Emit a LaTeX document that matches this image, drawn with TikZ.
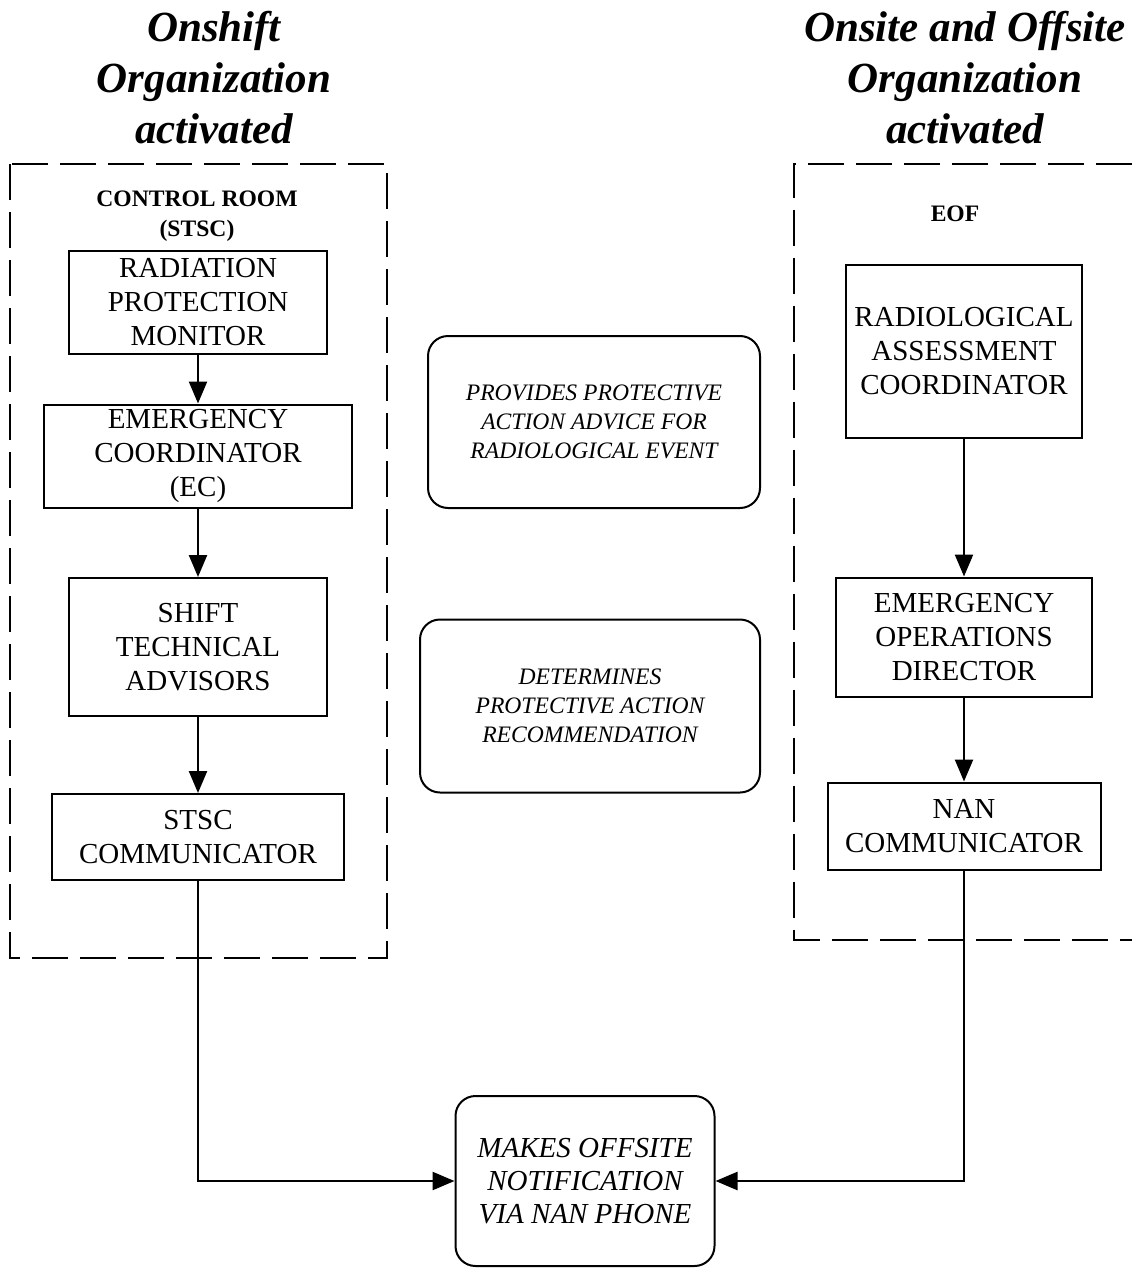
\documentclass[tikz,border=0pt]{standalone}
\usepackage{fontspec}
\setmainfont{Liberation Serif}
\usetikzlibrary{arrows.meta}

\begin{document}
\begin{tikzpicture}[x=0.5pt, y=-0.5pt,
    unit/.style={draw, line width=1pt, align=center, inner sep=0pt, font=\fontsize{14.5}{17}\selectfont},
    task/.style={draw, line width=1pt, rounded corners=10pt, align=center, inner sep=0pt, font=\itshape\fontsize{11.8}{14.5}\selectfont},
    heading/.style={align=center, font=\bfseries\itshape\fontsize{21.5}{25.5}\selectfont},
    place/.style={align=center, font=\bfseries\fontsize{11.8}{15}\selectfont},
    zone/.style={line width=1pt, dash pattern=on 18pt off 6pt},
    arr/.style={line width=1.2pt, -{Triangle[length=11pt, width=9pt]}}]
    \useasboundingbox (0,0) rectangle (1132,1268);
    \node[heading] (onshift) at (214,78) {Onshift\\Organization\\activated};
    \node[heading] (offsite) at (965,78) {Onsite and Offsite\\Organization\\activated};
    \draw[zone] (10,164) rectangle (387,958);
    \draw[zone] (1132,164) -- (794,164) -- (794,940) -- (1132,940);
    \node[place] (room) at (197,216) {CONTROL ROOM\\(STSC)};
    \node[place] (eof) at (955,214) {EOF};
    \node[unit, minimum width=129pt, minimum height=51.5pt] (rpm) at (198,302) {RADIATION\\PROTECTION\\MONITOR};
    \node[unit, minimum width=154pt, minimum height=51.5pt] (ec) at (198,456) {EMERGENCY\\COORDINATOR\\(EC)};
    \node[unit, minimum width=129pt, minimum height=69pt] (sta) at (198,647) {SHIFT\\TECHNICAL\\ADVISORS};
    \node[unit, minimum width=146pt, minimum height=43pt] (stsc) at (198,837) {STSC\\COMMUNICATOR};
    \node[unit, minimum width=118pt, minimum height=86.5pt] (rac) at (964,351) {RADIOLOGICAL\\ASSESSMENT\\COORDINATOR};
    \node[unit, minimum width=128pt, minimum height=59.5pt] (eod) at (964,637) {EMERGENCY\\OPERATIONS\\DIRECTOR};
    \node[unit, minimum width=136.5pt, minimum height=43.5pt] (nan) at (964,826) {NAN\\COMMUNICATOR};
    \node[task, minimum width=166pt, minimum height=86pt] (advice) at (594,422) {PROVIDES PROTECTIVE\\ACTION ADVICE FOR\\RADIOLOGICAL EVENT};
    \node[task, minimum width=170pt, minimum height=86.5pt] (par) at (590,706) {DETERMINES\\PROTECTIVE ACTION\\RECOMMENDATION};
    \node[task, minimum width=129.5pt, minimum height=85pt, font=\itshape\fontsize{14.5}{16.5}\selectfont] (notify) at (585,1181) {MAKES OFFSITE\\NOTIFICATION\\VIA NAN PHONE};
    \draw[arr] (rpm) -- (ec);
    \draw[arr] (ec) -- (sta);
    \draw[arr] (sta) -- (stsc);
    \draw[arr] (rac) -- (eod);
    \draw[arr] (eod) -- (nan);
    \draw[arr] (stsc.south) |- (notify.west);
    \draw[arr] (nan.south) |- (notify.east);
\end{tikzpicture}
\end{document}
